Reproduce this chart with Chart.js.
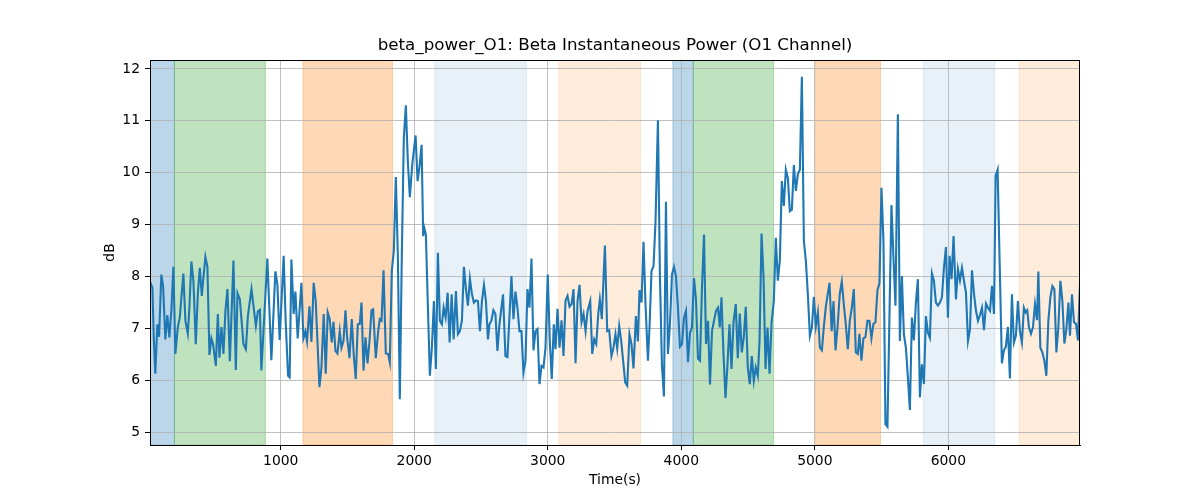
<!DOCTYPE html>
<html><head><meta charset="utf-8">
<script src="https://cdn.jsdelivr.net/npm/chart.js@4.4.0/dist/chart.umd.min.js"></script>
<style>html,body{margin:0;padding:0;background:#fff;}canvas{display:block;}</style>
</head><body>
<canvas id="c" width="1200" height="500"></canvas>
<script>
const times = [21,39,49,61,76,89,106,119,136,151,166,181,196,211,229,244,271,286,304,316,331,346,364,379,394,409,421,436,451,466,481,494,514,529,541,556,571,586,601,619,646,664,676,694,721,739,754,781,799,814,829,844,
855,900,930,960,975,992,1022,1037,1055,1067,1080,1097,1110,1127,1155,1170,1185,1197,1215,1230,1247,1262,1290,1305,1322,1337,1352,1367,1382,1395,1410,1425,1442,1455,1470,1485,1497,1515,1532,1547,1562,1577,1592,1605,1620,1635,1650,1665,1680,1692,1712,1730,1742,1755,1770,1787,1805,1817,1832,1847,1862,1877,1892,1907,1922,1937,1952,1967,1985,2010,2025,2040,2055,2067,2075,2087,2117,2132,2147,2162,2177,2192,2207,2220,2235,2250,2265,2280,2295,2312,2327,2342,2357,2372,2387,2402,2417,2432,2447,2462,2477,2492,2507,2522,2537,2552,2563,2578,2593,2608,2623,2638,2665,2683,2698,2728,2743,2758,2773,2788,2803,2818,2833,2848,2863,2878,2893,2908,2923,2938,2953,2968,2983,3000,3015,3030,3045,3058,3073,3088,3103,3118,3133,3148,3163,3178,3193,3208,3223,3238,3253,3268,3283,3298,3318,3333,3348,3363,3378,3390,3405,3428,3445,3460,3477,3492,3507,3520,3535,3550,3580,3595,3612,3627,3642,3660,3675,3687,3702,3717,3732,3750,3762,3777,3792,3807,3825,3840,3855,3870,3885,3900,3915,3930,3945,3960,3975,3990,4005,4020,4035,4050,4065,4080,4095,4110,4125,4140,4155,4170,4185,4200,4215,4230,4245,4260,4275,4288,4301,4316,4331,4346,4361,4376,4391,4408,4423,4438,4453,4468,4483,4498,4513,4528,4543,4558,4573,4586,4601,4616,4631,4646,4661,4676,4693,4708,4723,4738,4753,4768,4783,4798,4813,4828,4843,4858,4873,4888,4903,4918,4933,4948,4963,4978,4993,5008,5023,5038,5053,5068,5083,5110,5126,5140,5155,5170,5187,5202,5217,5232,5247,5262,5277,5292,5307,5322,5334,5349,5364,5379,5394,5409,5424,5439,5454,5469,5484,5499,5514,5529,5544,5574,5589,5604,5622,5637,5652,5667,5682,5697,5712,5727,5742,5757,5772,5787,5802,5817,5832,5847,5862,5877,5892,5907,5922,5937,5952,5967,5982,5997,6009,6024,6039,6057,6072,6087,6102,6117,6132,6147,6162,6177,6192,6207,6222,6237,6252,6267,6282,6297,6312,6327,6342,6354,6369,6384,6401,6416,6431,6446,6461,6476,6491,6506,6521,6536,6551,6566,6579,6591,6604,6619,6634,6649,6664,6674,6689,6704,6719,6734,6749,6764,6779,6794,6809,6824,6839,6854,6869,6884,6899,6911,6926,6941,6956,6971,6986];
const dbValues = [7.90,7.79,6.83,6.13,7.08,6.84,8.04,7.82,6.79,7.26,6.83,7.34,8.19,6.51,7.02,7.21,8.06,7.15,6.90,7.40,8.29,7.92,6.70,7.66,8.17,7.63,7.98,8.38,8.19,6.49,6.81,6.69,6.28,7.28,6.44,7.03,6.51,7.34,7.76,6.37,8.31,6.20,7.68,7.56,6.70,6.60,7.24,7.76,7.37,7.05,7.33,7.36,
6.19,8.35,6.39,8.10,7.85,6.78,8.40,7.15,6.09,6.06,8.33,7.28,7.71,6.81,7.88,6.81,6.94,6.75,7.43,6.74,7.88,7.53,5.87,6.25,7.28,6.13,7.31,7.18,6.73,7.13,6.57,6.52,6.95,6.63,6.76,7.35,6.84,6.43,7.18,6.48,6.03,7.08,7.09,7.50,6.19,6.83,6.33,6.76,7.35,7.37,6.43,6.95,7.18,7.15,8.12,6.52,6.51,6.35,8.11,8.49,9.92,8.43,5.64,8.43,10.67,11.30,10.22,9.53,10.16,10.72,9.84,10.13,10.54,8.78,8.94,8.81,6.09,6.63,7.53,6.22,8.46,7.15,7.08,7.40,7.21,7.69,6.73,7.66,6.79,7.72,6.89,6.95,7.15,8.19,7.76,7.44,7.96,7.66,7.50,7.54,7.53,6.95,7.53,7.84,7.53,6.79,7.08,7.15,7.35,7.28,6.57,7.08,7.66,6.47,6.45,8.01,7.18,7.71,7.40,6.95,6.95,6.15,6.38,7.76,7.40,8.35,6.58,6.95,6.99,5.93,6.28,6.25,6.63,8.04,6.76,6.03,7.08,6.60,7.38,6.63,7.16,6.47,7.54,7.63,7.42,7.47,7.76,6.33,7.53,7.84,7.12,7.28,6.95,7.34,7.53,6.51,6.79,6.70,7.28,7.56,7.18,8.60,6.95,6.97,6.47,6.63,6.89,6.62,7.05,6.76,5.96,5.90,6.89,6.70,6.23,7.24,6.75,7.74,7.50,8.67,7.47,6.38,7.02,8.11,8.20,9.07,11.01,8.00,6.30,5.69,9.44,6.51,7.08,8.04,8.19,8.01,7.40,6.65,6.70,7.21,7.34,6.35,6.92,7.02,7.97,7.56,6.42,6.38,7.79,8.81,6.70,7.15,5.92,6.95,7.15,7.34,7.40,7.02,7.60,6.51,5.66,6.31,7.08,6.22,7.12,7.47,6.43,7.29,6.54,6.83,7.42,6.25,5.93,6.47,5.99,6.25,6.09,6.76,8.83,7.98,6.22,7.02,6.13,7.12,7.53,8.75,7.92,8.31,9.84,9.36,10.06,9.90,9.26,9.29,10.15,9.65,9.97,10.06,11.85,8.69,8.30,7.65,6.86,7.02,7.61,7.05,7.31,6.63,6.58,7.05,7.43,7.88,6.95,7.53,6.58,7.02,7.67,7.90,7.47,7.08,6.60,7.15,7.40,7.76,6.54,6.51,6.90,6.38,6.81,6.84,7.15,7.15,6.81,7.09,7.12,7.74,7.87,9.71,8.69,5.16,5.11,9.38,8.36,7.44,11.13,6.76,8.01,6.89,6.63,6.06,5.43,7.21,6.77,7.50,7.95,5.67,6.31,5.93,7.24,6.92,6.82,8.06,7.92,7.50,7.44,7.50,7.60,8.17,8.57,7.21,8.40,7.95,8.78,7.56,8.14,7.93,8.17,7.92,7.69,6.76,6.99,8.12,7.67,7.34,7.15,7.26,7.40,6.97,7.48,7.40,7.34,7.82,7.28,9.94,10.06,8.30,6.33,6.58,6.65,7.03,6.04,7.66,6.73,6.86,7.53,6.95,6.73,7.40,7.31,7.35,7.02,6.90,7.03,7.47,7.16,8.10,6.63,6.54,6.38,6.09,7.15,7.60,7.82,7.76,6.54,7.02,7.92,7.53,6.71,6.99,7.50,6.86,7.66,7.12,7.09,6.77,7.87];

const regionStart = [21,204,1167,2154,3083,3937,4090,5006,5812,6529];
const regionEnd   = [204,885,1837,2840,3695,4090,4691,5492,6349,6986];
const regionKind  = ['blue','green','orange','lightblue','lightorange','blue','green','orange','lightblue','lightorange'];

const xTicks = [1000,2000,3000,4000,5000,6000];
const yTicks = [5,6,7,8,9,10,11,12];
const xRange = [21, 6986];
const yRange = [4.756, 12.173];

const titleText = 'beta_power_O1: Beta Instantaneous Power (O1 Channel)';
const xLabel = 'Time(s)';
const yLabel = 'dB';

const kindFill = {
  blue: 'rgba(31,119,180,0.3)',
  green: 'rgba(44,160,44,0.3)',
  orange: 'rgba(255,127,14,0.3)',
  lightblue: 'rgba(31,119,180,0.1)',
  lightorange: 'rgba(255,127,14,0.15)'
};
const FONT = '"DejaVu Sans", sans-serif';

const bgPlugin = {
  id: 'bgRegions',
  beforeDraw(chart) {
    const {ctx, chartArea: a, scales: {x}} = chart;
    ctx.save();
    ctx.fillStyle = '#fff';
    ctx.fillRect(0, 0, chart.width, chart.height);
    ctx.beginPath();
    ctx.rect(a.left, a.top, a.right - a.left, a.bottom - a.top);
    ctx.clip();
    regionStart.forEach((s, i) => {
      const x0 = x.getPixelForValue(s);
      const x1 = x.getPixelForValue(regionEnd[i]);
      ctx.fillStyle = kindFill[regionKind[i]];
      ctx.fillRect(x0, a.top, x1 - x0, a.bottom - a.top);
      ctx.strokeStyle = kindFill[regionKind[i]];
      ctx.lineWidth = 1;
      ctx.strokeRect(x0, a.top, x1 - x0, a.bottom - a.top);
    });
    ctx.restore();
  },
  afterDraw(chart) {
    const {ctx, chartArea: a} = chart;
    ctx.save();
    ctx.strokeStyle = '#000';
    ctx.lineWidth = 1;
    ctx.strokeRect(Math.round(a.left) + 0.5, Math.round(a.top) + 0.5, Math.round(a.right - a.left) - 1, Math.round(a.bottom - a.top));
    ctx.fillStyle = '#000';
    ctx.font = '16.7px ' + FONT;
    ctx.textAlign = 'center';
    ctx.textBaseline = 'middle';
    ctx.fillText(titleText, (a.left + a.right) / 2, 46);
    ctx.restore();
  }
};

new Chart(document.getElementById('c'), {
  type: 'line',
  data: {
    datasets: [{
      data: times.map((t, i) => ({x: t, y: dbValues[i]})),
      borderColor: '#1f77b4',
      borderWidth: 2.1,
      pointRadius: 0,
      fill: false,
      tension: 0
    }]
  },
  options: {
    responsive: false,
    animation: false,
    layout: {padding: {left: 102, right: 120, top: 60, bottom: 11}},
    plugins: {legend: {display: false}, tooltip: {enabled: false}, title: {display: false}},
    scales: {
      x: {
        type: 'linear',
        min: xRange[0], max: xRange[1],
        afterBuildTicks: s => { s.ticks = xTicks.map(v => ({value: v})); },
        afterFit: s => { s.height = 44; },
        ticks: {color: '#000', font: {family: FONT, size: 13.9}, padding: 3, maxRotation: 0, autoSkip: false, callback: v => String(v)},
        grid: {color: '#b0b0b0', lineWidth: 0.8, tickColor: '#000', tickLength: 5, tickWidth: 1},
        border: {color: '#000', width: 1},
        title: {display: true, text: xLabel, color: '#000', font: {family: FONT, size: 13.9}, padding: {top: 0, bottom: 0}}
      },
      y: {
        type: 'linear',
        min: yRange[0], max: yRange[1],
        afterBuildTicks: s => { s.ticks = yTicks.map(v => ({value: v})); },
        afterFit: s => { s.width = 48; },
        ticks: {color: '#000', font: {family: FONT, size: 13.9}, padding: 5, callback: v => String(v)},
        grid: {color: '#b0b0b0', lineWidth: 0.8, tickColor: '#000', tickLength: 5, tickWidth: 1},
        border: {color: '#000', width: 1},
        title: {display: true, text: yLabel, color: '#000', font: {family: FONT, size: 13.9}, padding: {top: 0, bottom: 0}}
      }
    }
  },
  plugins: [bgPlugin]
});
</script>
</body></html>
